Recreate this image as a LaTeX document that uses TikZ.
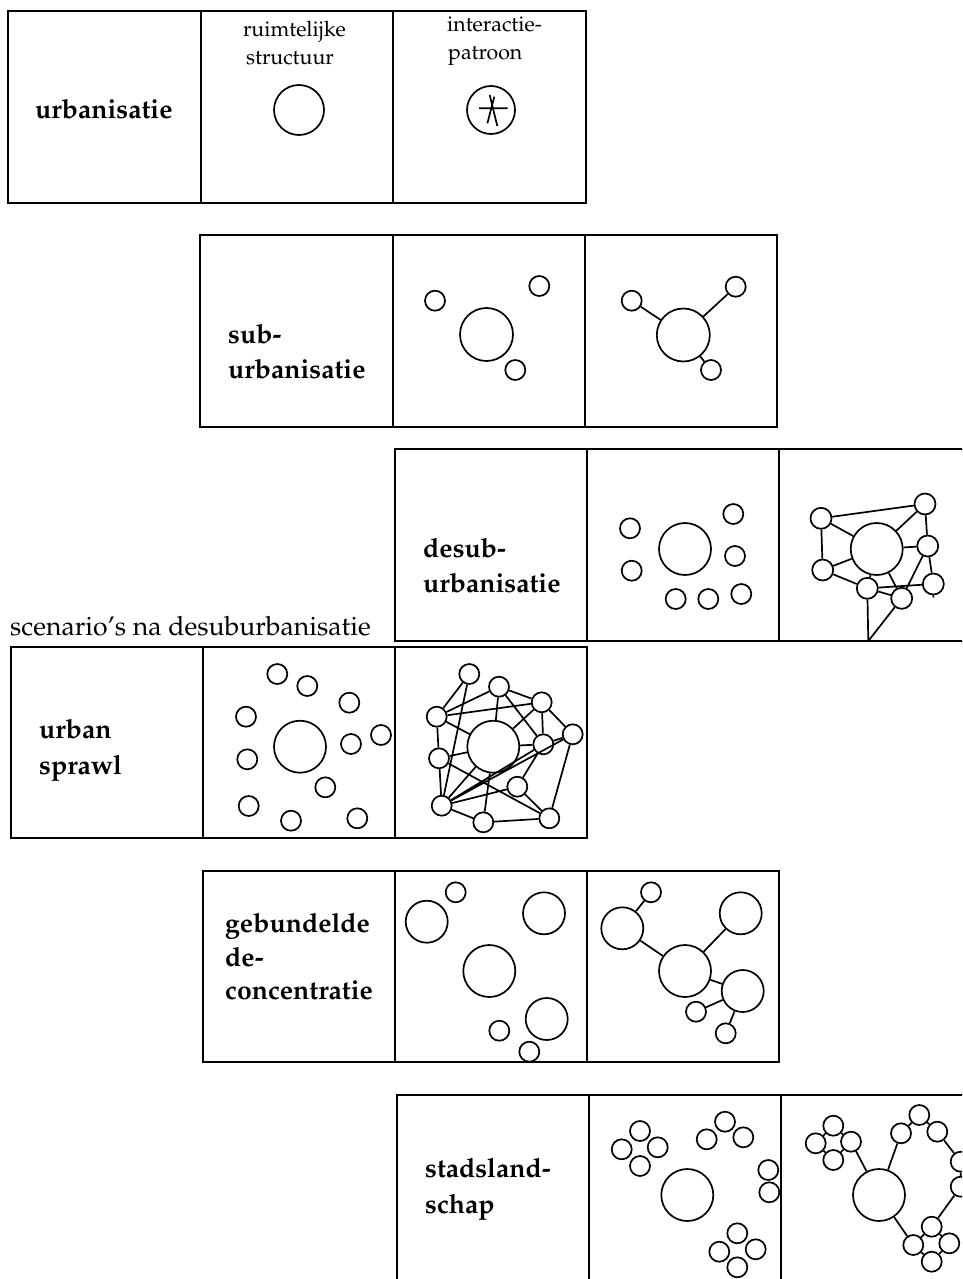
\documentclass[tikz,border=0pt]{standalone}
\usepackage[T1]{fontenc}
\usepackage{mathpazo}
\begin{document}
\begin{tikzpicture}[x=1pt,y=-1pt,
  frame/.style={line width=2pt},
  town/.style={circle,draw,line width=1.7pt,inner sep=0pt,minimum size=20pt},
  city/.style={town,minimum size=52pt},
  midcity/.style={town,minimum size=42pt},
  link/.style={line width=1.7pt},
  lbl/.style={font=\fontsize{26.6}{35}\selectfont\bfseries,anchor=base west,inner sep=0pt},
  hdr/.style={font=\fontsize{21.3}{26}\selectfont,anchor=base west,inner sep=0pt},
  note/.style={font=\fontsize{26.6}{32}\selectfont,anchor=base west,inner sep=0pt}]
\useasboundingbox (0,0) rectangle (962,1279);
\fill[white] (0,0) rectangle (962,1279);
\clip (0,0) rectangle (962,1279);

% ---------- row 1: urbanisatie
\draw[frame] (8,11) rectangle (586,203) (201,11) -- (201,203) (393,11) -- (393,203);
\node[lbl] (t1) at (35,118) {urbanisatie};
\node[hdr] (h1a) at (243,37) {ruimtelijke};
\node[hdr] (h1b) at (246,65) {structuur};
\node[hdr] (h2a) at (447,32) {interactie-};
\node[hdr] (h2b) at (448,60) {patroon};
\node[town,minimum size=50pt] (u1) at (299,110) {};
\node[town,minimum size=48pt] (u2) at (491,110) {};
\coordinate (st1) at (479,108.3);  \coordinate (st2) at (507.7,108.3);
\coordinate (st3) at (489.7,95);   \coordinate (st4) at (497.3,126);
\coordinate (st5) at (494.3,96.7); \coordinate (st6) at (487.4,123.3);
\draw[link] (st1) -- (st2) (st3) -- (st4) (st5) -- (st6);

% ---------- row 2: suburbanisatie
\draw[frame] (200,235) rectangle (777,427) (393,235) -- (393,427) (585,235) -- (585,427);
\node[lbl] (t2a) at (228,343) {sub-};
\node[lbl] (t2b) at (228,378) {urbanisatie};
\node[city,minimum size=53pt] (s2big) at (486.5,334.5) {};
\node[town] (s2a) at (435,300.7) {};
\node[town] (s2b) at (539.3,286) {};
\node[town] (s2c) at (515.3,370) {};
\node[city,minimum size=53pt] (s3big) at (683.3,335) {};
\node[town] (s3a) at (631.7,300.7) {};
\node[town] (s3b) at (735.7,286.7) {};
\node[town] (s3c) at (711,370) {};
\draw[link] (s3big) -- (s3a) (s3big) -- (s3b) (s3big) -- (s3c);

% ---------- row 3: desuburbanisatie
\draw[frame] (395,449) rectangle (1000,641) (587,449) -- (587,641) (779,449) -- (779,641);
\node[lbl] (t3a) at (423,557) {desub-};
\node[lbl] (t3b) at (423,592) {urbanisatie};
\node[city] (d2big) at (685,549) {};
\node[town] (d2a) at (630,528.3) {};
\node[town] (d2b) at (631.7,570.7) {};
\node[town] (d2c) at (733.3,514) {};
\node[town] (d2d) at (735,556) {};
\node[town] (d2e) at (675.7,599) {};
\node[town] (d2f) at (708.3,599) {};
\node[town] (d2g) at (741.3,594) {};
\node[city] (d3big) at (876.7,549) {};
\node[town,minimum size=21pt] (dA) at (821,518.3) {};
\node[town,minimum size=21pt] (dB) at (925,504) {};
\node[town,minimum size=21pt] (dC) at (927.7,546) {};
\node[town,minimum size=21pt] (dD) at (822.7,570) {};
\node[town,minimum size=21pt] (dE) at (867.3,588.3) {};
\node[town,minimum size=21pt] (dF) at (901.7,598.3) {};
\node[town,minimum size=21pt] (dG) at (933.3,584) {};
\coordinate (dfoot) at (868.3,641);
\coordinate (gstub) at (933.5,597.5);
\draw[link] (dA) -- (dB) (dA) -- (d3big) (dA) -- (dD) (dB) -- (d3big) (dB) -- (dC)
  (d3big) -- (dC) (dD) -- (d3big) (dD) -- (dE) (dE) -- (d3big) (d3big) -- (dF)
  (dE) -- (dF) (dE) -- (dG) (dC) -- (dG) (dF) -- (dC) (dG.south) -- (gstub)
  (dE) -- (dfoot) (dF) -- (dfoot);

% ---------- caption
\node[note] (cap) at (10,635) {scenario's na desuburbanisatie};

% ---------- row 4: urban sprawl
\draw[frame] (11,647) rectangle (587,838) (203,647) -- (203,838) (395,647) -- (395,838);
\node[lbl] (t4a) at (39,738) {urban};
\node[lbl] (t4b) at (39,774) {sprawl};
\node[city] (p2big) at (300,746.7) {};
\node[town] (p2n1) at (277.3,674) {};
\node[town] (p2n2) at (307.3,686) {};
\node[town] (p2n3) at (349.3,702.7) {};
\node[town] (p2n4) at (246,716.7) {};
\node[town] (p2n5) at (381,735) {};
\node[town] (p2n6) at (351,744) {};
\node[town] (p2n7) at (247.3,759.3) {};
\node[town] (p2n8) at (325.3,787.3) {};
\node[town] (p2n9) at (248.7,806) {};
\node[town] (p2n10) at (291,820.7) {};
\node[town] (p2n11) at (357.3,818.3) {};
\node[city] (p3big) at (493.3,746.7) {};
\node[town] (n1) at (469.3,674) {};
\node[town] (n2) at (499,686.7) {};
\node[town] (n3) at (541.7,702.3) {};
\node[town] (n4) at (436.7,716.7) {};
\node[town] (n5) at (572.7,734.3) {};
\node[town] (n6) at (543.3,744.3) {};
\node[town] (n7) at (439,758.3) {};
\node[town] (n8) at (517.3,786.7) {};
\node[town] (n9) at (441.7,805.7) {};
\node[town] (n10) at (483.3,822.3) {};
\node[town] (n11) at (549.3,818.3) {};
\draw[link] (n1) -- (n4) (n1) -- (n9) (n4) -- (n2) (n4) -- (n3) (n4) -- (n7)
  (n4) -- (p3big) (n2) -- (p3big) (n2) -- (n3) (n2) -- (n6) (n3) -- (p3big)
  (n3) -- (n6) (n3) -- (n5) (p3big) -- (n6) (n6) -- (n5) (n5) -- (n11)
  (n5) -- (n9) (n6) -- (n8) (n7) -- (p3big) (n7) -- (n9) (n7) -- (n11)
  (n9) -- (p3big) (n9) -- (n8) (n9) -- (n10) (n9) -- (n6) (p3big) -- (n10)
  (n8) -- (n11) (n10) -- (n11);

% ---------- row 5: gebundelde deconcentratie
\draw[frame] (203,871) rectangle (779,1062) (395,871) -- (395,1062) (587,871) -- (587,1062);
\node[lbl] (t5a) at (225,932) {gebundelde};
\node[lbl] (t5b) at (225,966) {de-};
\node[lbl] (t5c) at (225,999) {concentratie};
\node[midcity] (g2a) at (426.7,921.7) {};
\node[town] (g2b) at (455.7,892.3) {};
\node[midcity] (g2c) at (544,913.3) {};
\node[city] (g2big) at (489.3,971) {};
\node[midcity] (g2e) at (546.7,1019) {};
\node[town] (g2f) at (499.3,1030.7) {};
\node[town] (g2g) at (529.3,1051.7) {};
\node[midcity] (g3a) at (622.3,928.3) {};
\node[town] (g3b) at (651,892.3) {};
\node[midcity] (g3c) at (740.7,913.3) {};
\node[city] (g3big) at (685,971) {};
\node[midcity] (g3e) at (742.7,991) {};
\node[town] (g3f) at (696,1011.7) {};
\node[town] (g3g) at (725.7,1033.3) {};
\draw[link] (g3b) -- (g3a) (g3a) -- (g3big) (g3c) -- (g3big) (g3big) -- (g3e)
  (g3e) -- (g3f) (g3e) -- (g3g);

% ---------- row 6: stadslandschap
\draw[frame] (397,1095) rectangle (1000,1300) (589,1095) -- (589,1300) (781,1095) -- (781,1300);
\node[lbl] (t6a) at (425,1177) {stadsland-};
\node[lbl] (t6b) at (425,1213) {schap};
\node[city] (l2big) at (687.3,1195) {};
\node[town] (l2at) at (640,1131) {};
\node[town] (l2al) at (621.7,1149.3) {};
\node[town] (l2ar) at (657.7,1147.3) {};
\node[town] (l2ab) at (640,1166) {};
\node[town] (l2c1) at (706.7,1139.3) {};
\node[town] (l2c2) at (725,1121.7) {};
\node[town] (l2c3) at (743.3,1137.3) {};
\node[town] (l2p1) at (768.3,1170) {};
\node[town] (l2p2) at (769.3,1192.3) {};
\node[town] (l2bt) at (737.3,1233.3) {};
\node[town] (l2bl) at (719.3,1251.7) {};
\node[town] (l2br) at (755.7,1249.3) {};
\node[town] (l2bb) at (737.3,1267.3) {};
\node[city] (l3big) at (879,1195) {};
\node[town] (l3at) at (833.3,1125.7) {};
\node[town] (l3al) at (815.7,1143.3) {};
\node[town] (l3ar) at (851,1141.7) {};
\node[town] (l3ab) at (833.3,1160) {};
\node[town] (l3c1) at (901,1133.3) {};
\node[town] (l3c2) at (919.3,1115) {};
\node[town] (l3c3) at (937.3,1131.7) {};
\node[town] (l3c4) at (960.7,1161.7) {};
\node[town] (l3c5) at (960.7,1186.7) {};
\node[town] (l3bt) at (931.7,1226.7) {};
\node[town] (l3bl) at (913.3,1245) {};
\node[town] (l3br) at (949.3,1243.3) {};
\node[town] (l3bb) at (931.7,1261.7) {};
\draw[link] (l3at) -- (l3al) (l3at) -- (l3ar) (l3al) -- (l3ab) (l3ar) -- (l3ab)
  (l3ar) -- (l3big) (l3big) -- (l3c1) (l3c1) -- (l3c2) (l3c2) -- (l3c3)
  (l3c3) -- (l3c4) (l3c4) -- (l3c5) (l3c5) -- (l3bt) (l3big) -- (l3bl)
  (l3bt) -- (l3bl) (l3bt) -- (l3br) (l3bl) -- (l3bb) (l3br) -- (l3bb);
\end{tikzpicture}
\end{document}
